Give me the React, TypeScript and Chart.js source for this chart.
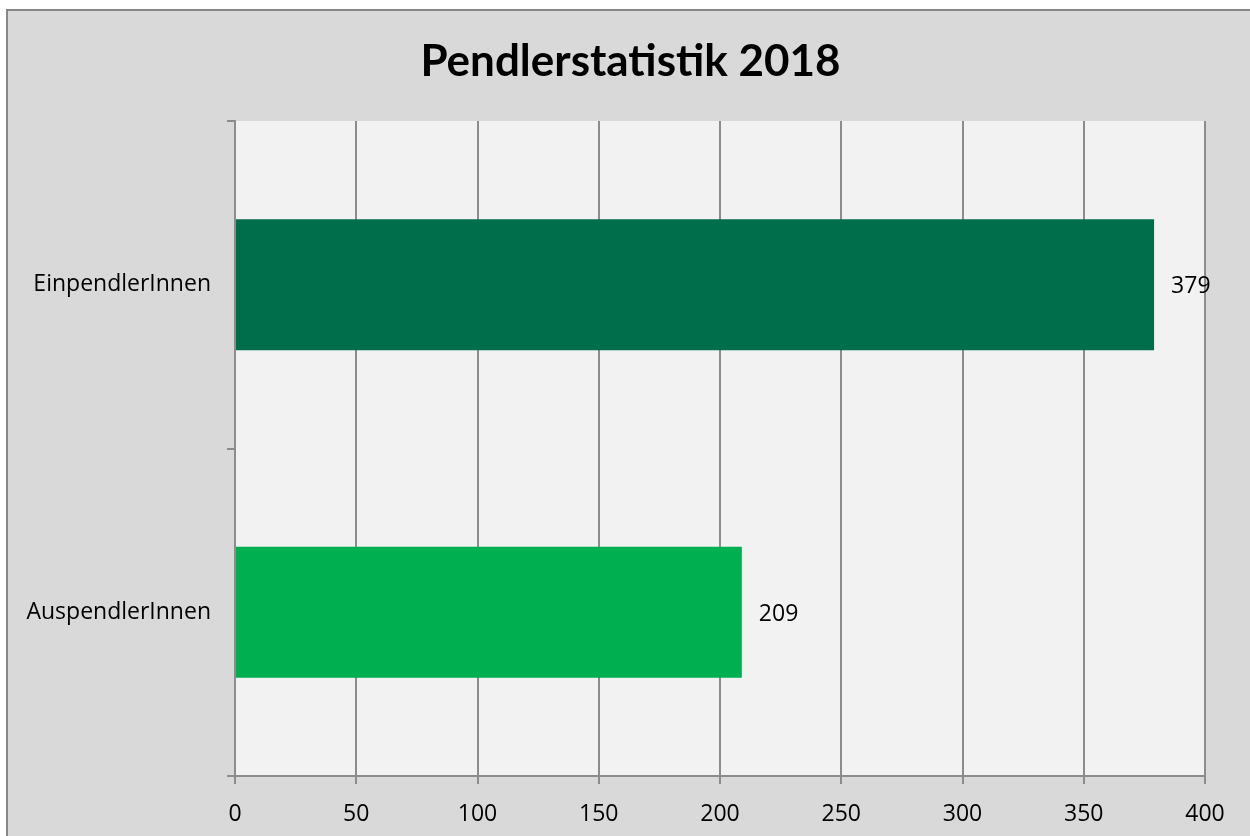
import React, { useEffect, useRef } from "react";
import { Chart, registerables } from "chart.js";

Chart.register(...registerables);

const categories = ["EinpendlerInnen", "AuspendlerInnen"];
const values = [379, 209];
const barColors = ["#006e4a", "#00b050"];
const titleText = "Pendlerstatistik 2018";
const xMin = 0;
const xMax = 400;
const xStep = 50;

const TITLE_FONT = "Lato, 'Open Sans', sans-serif";
const FONT = "'Open Sans', Lato, sans-serif";

const bgPlugin = {
  id: "bgPlugin",
  beforeDraw(chart: any) {
    const { ctx, chartArea, width, height } = chart;
    ctx.save();
    ctx.fillStyle = "#ffffff";
    ctx.fillRect(0, 0, width, height);
    ctx.fillStyle = "#d9d9d9";
    ctx.fillRect(7, 9, width - 7, height - 9);
    ctx.strokeStyle = "#878787";
    ctx.lineWidth = 2;
    ctx.beginPath();
    ctx.moveTo(7, height + 2);
    ctx.lineTo(7, 10);
    ctx.lineTo(width + 2, 10);
    ctx.stroke();
    ctx.fillStyle = "#f2f2f2";
    ctx.fillRect(chartArea.left, chartArea.top, chartArea.right - chartArea.left, chartArea.bottom - chartArea.top);
    ctx.fillStyle = "#000000";
    ctx.font = `bold 44px ${TITLE_FONT}`;
    ctx.textAlign = "center";
    ctx.textBaseline = "middle";
    ctx.fillText(titleText, 630.5, 62);
    ctx.restore();
  },
};

const labelPlugin = {
  id: "labelPlugin",
  afterDatasetsDraw(chart: any) {
    const { ctx } = chart;
    const meta = chart.getDatasetMeta(0);
    ctx.save();
    ctx.fillStyle = "#000000";
    ctx.font = `23px ${FONT}`;
    ctx.textAlign = "left";
    ctx.textBaseline = "middle";
    meta.data.forEach((el: any, i: number) => {
      ctx.fillText(String(values[i]), el.x + 17, el.y + 2);
    });
    ctx.restore();
  },
};

export default function App() {
  const ref = useRef<HTMLCanvasElement>(null);
  useEffect(() => {
    if (!ref.current) return;
    const chart = new Chart(ref.current, {
      type: "bar",
      data: {
        labels: categories,
        datasets: [
          {
            data: values,
            backgroundColor: barColors,
            borderWidth: 0,
            barPercentage: 0.4,
            categoryPercentage: 1,
          },
        ],
      },
      options: {
        indexAxis: "y",
        animation: false,
        responsive: false,
        maintainAspectRatio: false,
        layout: { padding: { left: 0, right: 45, top: 121, bottom: 0 } },
        plugins: {
          legend: { display: false },
          tooltip: { enabled: false },
          title: { display: false },
        },
        scales: {
          x: {
            min: xMin,
            max: xMax,
            ticks: {
              stepSize: xStep,
              color: "#000000",
              font: { family: FONT, size: 23 },
              padding: 17,
            },
            grid: {
              color: "#8c8c8c",
              lineWidth: 2,
              tickLength: 8,
              drawTicks: true,
            },
            border: { color: "#8c8c8c", width: 2 },
            afterFit(scale: any) {
              scale.height = 60;
            },
          },
          y: {
            ticks: {
              color: "#000000",
              font: { family: FONT, size: 23 },
              padding: 16,
            },
            grid: {
              drawOnChartArea: false,
              color: "#8c8c8c",
              lineWidth: 2,
              tickLength: 8,
              offset: true,
            },
            border: { color: "#8c8c8c", width: 2 },
            afterFit(scale: any) {
              scale.width = 235;
            },
          },
        },
      },
      plugins: [bgPlugin, labelPlugin],
    });
    return () => chart.destroy();
  }, []);
  return (
    <div style={{ position: "fixed", left: 0, top: 0, width: 1250, height: 836 }}>
      <canvas ref={ref} width={1250} height={836} style={{ display: "block" }} />
    </div>
  );
}
